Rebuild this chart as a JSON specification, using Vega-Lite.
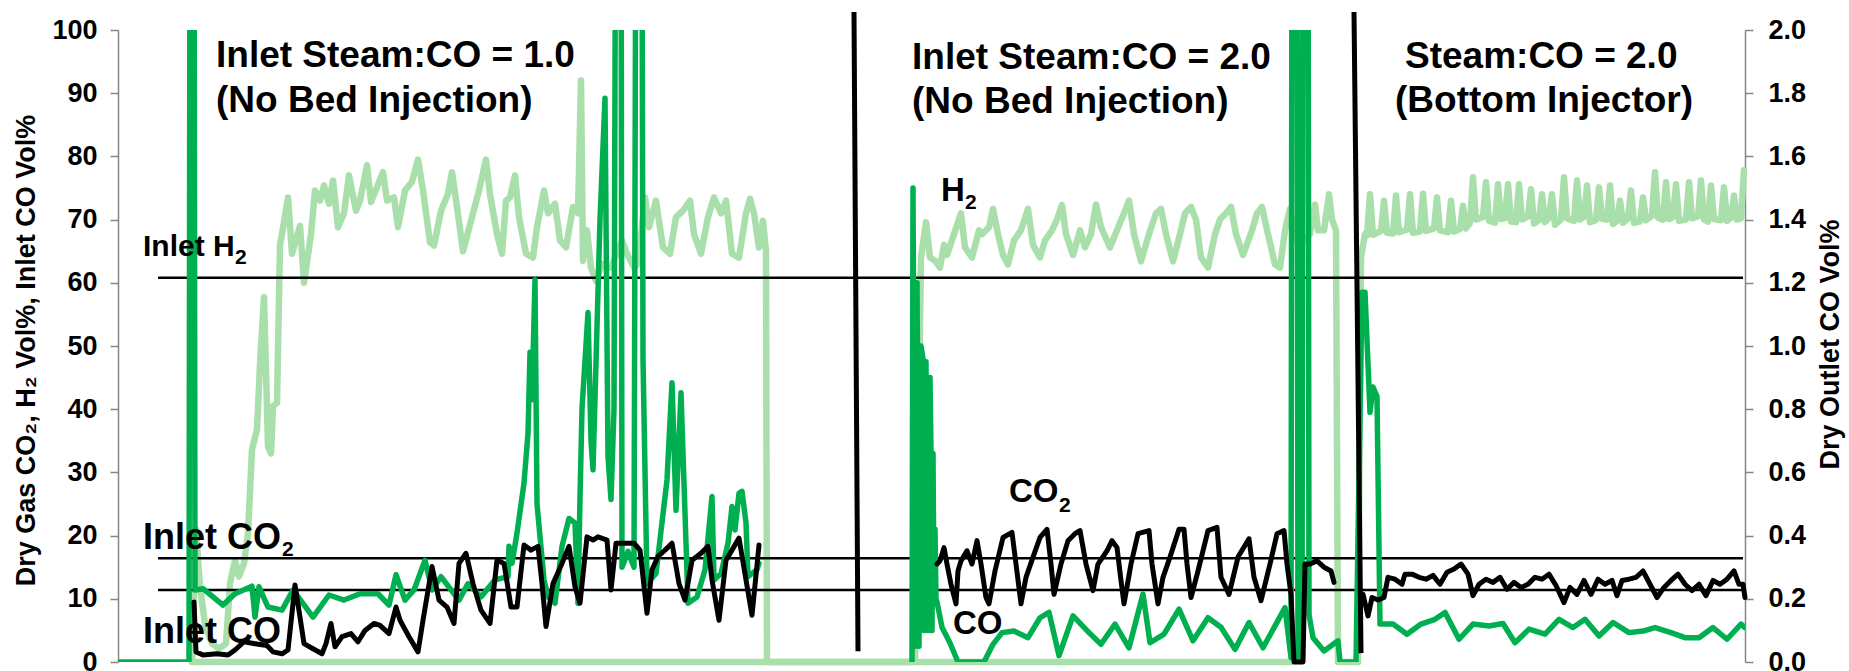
{
  "$schema": "https://vega.github.io/schema/vega-lite/v6.json",
  "width": 1627,
  "height": 632,
  "autosize": {"type": "none"},
  "padding": {"left": 118, "top": 30, "right": 104, "bottom": 9},
  "background": "white",
  "config": {
    "view": {"stroke": null},
    "axis": {
      "domainColor": "#868686", "domainWidth": 1.5,
      "tickColor": "#868686", "tickWidth": 1.5, "tickSize": 8,
      "labelFont": "Liberation Sans", "labelFontWeight": "bold", "labelFontSize": 27, "labelColor": "#000000",
      "titleFont": "Liberation Sans", "titleFontWeight": "bold", "titleFontSize": 27, "titleColor": "#000000",
      "grid": false
    }
  },
  "datasets": {
    "h2": [
      {"t":74,"v":0,"s":"a"},{"t":78,"v":21,"s":"a"},{"t":82,"v":12,"s":"a"},{"t":87,"v":6,"s":"a"},{"t":94,"v":2.9,"s":"a"},{"t":101,"v":2.1,"s":"a"},{"t":108,"v":2.9,"s":"a"},{"t":112,"v":12.4,"s":"a"},{"t":117,"v":16.1,"s":"a"},{"t":121,"v":13.5,"s":"a"},{"t":126,"v":15.6,"s":"a"},{"t":130,"v":20.4,"s":"a"},{"t":134,"v":33.6,"s":"a"},{"t":139,"v":36.8,"s":"a"},{"t":142,"v":47,"s":"a"},{"t":146,"v":57.7,"s":"a"},{"t":150,"v":34.1,"s":"a"},{"t":153,"v":33,"s":"a"},{"t":155,"v":40.5,"s":"a"},{"t":159,"v":41,"s":"a"},{"t":162,"v":66,"s":"a"},{"t":164,"v":67.7,"s":"a"},{"t":170,"v":73.5,"s":"a"},{"t":174,"v":64.6,"s":"a"},{"t":182,"v":69,"s":"a"},{"t":186,"v":60,"s":"a"},{"t":193,"v":67.7,"s":"a"},{"t":197,"v":74.6,"s":"a"},{"t":202,"v":73,"s":"a"},{"t":206,"v":75.4,"s":"a"},{"t":211,"v":72.5,"s":"a"},{"t":215,"v":76.2,"s":"a"},{"t":220,"v":68.8,"s":"a"},{"t":226,"v":71,"s":"a"},{"t":231,"v":77,"s":"a"},{"t":238,"v":71.4,"s":"a"},{"t":242,"v":73,"s":"a"},{"t":249,"v":78.6,"s":"a"},{"t":253,"v":72.8,"s":"a"},{"t":265,"v":77.5,"s":"a"},{"t":269,"v":73,"s":"a"},{"t":276,"v":73.5,"s":"a"},{"t":280,"v":68.8,"s":"a"},{"t":287,"v":74.6,"s":"a"},{"t":294,"v":76,"s":"a"},{"t":300,"v":79.5,"s":"a"},{"t":305,"v":74.6,"s":"a"},{"t":312,"v":66.4,"s":"a"},{"t":316,"v":65.9,"s":"a"},{"t":323,"v":71.4,"s":"a"},{"t":330,"v":74.1,"s":"a"},{"t":334,"v":77.5,"s":"a"},{"t":339,"v":72,"s":"a"},{"t":345,"v":65,"s":"a"},{"t":354,"v":70.4,"s":"a"},{"t":361,"v":74.6,"s":"a"},{"t":368,"v":79.5,"s":"a"},{"t":372,"v":74,"s":"a"},{"t":379,"v":67.7,"s":"a"},{"t":384,"v":64.6,"s":"a"},{"t":388,"v":73,"s":"a"},{"t":392,"v":73.5,"s":"a"},{"t":397,"v":77,"s":"a"},{"t":401,"v":70.4,"s":"a"},{"t":408,"v":64.6,"s":"a"},{"t":415,"v":64,"s":"a"},{"t":419,"v":68.8,"s":"a"},{"t":426,"v":74.6,"s":"a"},{"t":430,"v":71,"s":"a"},{"t":437,"v":72.5,"s":"a"},{"t":442,"v":66.7,"s":"a"},{"t":448,"v":65.6,"s":"a"},{"t":455,"v":72,"s":"a"},{"t":460,"v":71,"s":"a"},{"t":463,"v":92,"s":"a"},{"t":465,"v":63.5,"s":"a"},{"t":469,"v":68.3,"s":"a"},{"t":473,"v":62.4,"s":"a"},{"t":478,"v":60.3,"s":"a"},{"t":484,"v":63,"s":"a"},{"t":493,"v":62.4,"s":"a"},{"t":504,"v":66.7,"s":"a"},{"t":509,"v":64.6,"s":"a"},{"t":516,"v":62.4,"s":"a"},{"t":520,"v":63,"s":"a"},{"t":527,"v":73.5,"s":"a"},{"t":531,"v":68.8,"s":"a"},{"t":538,"v":73,"s":"a"},{"t":545,"v":65.6,"s":"a"},{"t":552,"v":64.6,"s":"a"},{"t":558,"v":70.4,"s":"a"},{"t":565,"v":71.4,"s":"a"},{"t":572,"v":73,"s":"a"},{"t":576,"v":67.7,"s":"a"},{"t":583,"v":64.6,"s":"a"},{"t":590,"v":70.4,"s":"a"},{"t":596,"v":73.5,"s":"a"},{"t":603,"v":71,"s":"a"},{"t":608,"v":73,"s":"a"},{"t":614,"v":64.6,"s":"a"},{"t":621,"v":64,"s":"a"},{"t":628,"v":71,"s":"a"},{"t":632,"v":73.3,"s":"a"},{"t":636,"v":71,"s":"a"},{"t":641,"v":65.6,"s":"a"},{"t":645,"v":69.8,"s":"a"},{"t":648,"v":65,"s":"a"},{"t":649,"v":0,"s":"a"},
      {"t":797,"v":0,"s":"a"},{"t":803,"v":64,"s":"a"},{"t":808,"v":69.6,"s":"a"},{"t":812,"v":64,"s":"a"},{"t":817,"v":63.5,"s":"a"},{"t":822,"v":62.4,"s":"a"},{"t":826,"v":66,"s":"a"},{"t":829,"v":64.4,"s":"a"},{"t":836,"v":67.7,"s":"a"},{"t":843,"v":71,"s":"a"},{"t":847,"v":65.6,"s":"a"},{"t":854,"v":64,"s":"a"},{"t":861,"v":68.3,"s":"a"},{"t":864,"v":67.7,"s":"a"},{"t":871,"v":68.8,"s":"a"},{"t":875,"v":71.7,"s":"a"},{"t":880,"v":67.7,"s":"a"},{"t":885,"v":64.4,"s":"a"},{"t":890,"v":62.9,"s":"a"},{"t":896,"v":66.7,"s":"a"},{"t":903,"v":68.3,"s":"a"},{"t":910,"v":71.7,"s":"a"},{"t":915,"v":66,"s":"a"},{"t":922,"v":64,"s":"a"},{"t":927,"v":66.7,"s":"a"},{"t":934,"v":68.3,"s":"a"},{"t":939,"v":70,"s":"a"},{"t":944,"v":72.3,"s":"a"},{"t":948,"v":67.7,"s":"a"},{"t":955,"v":64.4,"s":"a"},{"t":962,"v":68.3,"s":"a"},{"t":967,"v":65.6,"s":"a"},{"t":973,"v":67.7,"s":"a"},{"t":978,"v":72.4,"s":"a"},{"t":983,"v":68.8,"s":"a"},{"t":992,"v":65.6,"s":"a"},{"t":999,"v":68.3,"s":"a"},{"t":1006,"v":71,"s":"a"},{"t":1011,"v":73,"s":"a"},{"t":1016,"v":67.7,"s":"a"},{"t":1023,"v":63.4,"s":"a"},{"t":1031,"v":67.7,"s":"a"},{"t":1038,"v":71,"s":"a"},{"t":1043,"v":71.7,"s":"a"},{"t":1048,"v":67.7,"s":"a"},{"t":1055,"v":63.4,"s":"a"},{"t":1062,"v":67.7,"s":"a"},{"t":1067,"v":71,"s":"a"},{"t":1073,"v":72,"s":"a"},{"t":1078,"v":70,"s":"a"},{"t":1083,"v":64,"s":"a"},{"t":1090,"v":62.4,"s":"a"},{"t":1097,"v":67.7,"s":"a"},{"t":1102,"v":70,"s":"a"},{"t":1108,"v":71,"s":"a"},{"t":1113,"v":72,"s":"a"},{"t":1118,"v":67.7,"s":"a"},{"t":1125,"v":64.4,"s":"a"},{"t":1134,"v":68.3,"s":"a"},{"t":1139,"v":71,"s":"a"},{"t":1144,"v":72,"s":"a"},{"t":1150,"v":67.7,"s":"a"},{"t":1157,"v":62.9,"s":"a"},{"t":1162,"v":62.4,"s":"a"},{"t":1167,"v":68.3,"s":"a"},{"t":1172,"v":71.7,"s":"a"},{"t":1178,"v":66.7,"s":"a"},{"t":1186,"v":66.7,"s":"a"},{"t":1192,"v":67.7,"s":"a"},{"t":1197,"v":72.4,"s":"a"},{"t":1200,"v":68.3,"s":"a"},{"t":1206,"v":68.3,"s":"a"},{"t":1211,"v":74,"s":"a"},{"t":1214,"v":70,"s":"a"},{"t":1218,"v":68.3,"s":"a"},{"t":1220,"v":0,"s":"a"},
      {"t":1240,"v":0,"s":"a"},{"t":1243,"v":64,"s":"a"},{"t":1247,"v":67.7,"s":"a"},{"t":1249,"v":67.5,"s":"a"},{"t":1252,"v":74.0,"s":"a"},{"t":1255,"v":67.6,"s":"a"},{"t":1263,"v":68.2,"s":"a"},{"t":1266,"v":73.0,"s":"a"},{"t":1269,"v":67.9,"s":"a"},{"t":1275,"v":67.8,"s":"a"},{"t":1278,"v":73.8,"s":"a"},{"t":1281,"v":68.0,"s":"a"},{"t":1289,"v":68.4,"s":"a"},{"t":1292,"v":74.0,"s":"a"},{"t":1295,"v":67.9,"s":"a"},{"t":1302,"v":68.1,"s":"a"},{"t":1305,"v":74.1,"s":"a"},{"t":1308,"v":68.2,"s":"a"},{"t":1316,"v":68.6,"s":"a"},{"t":1319,"v":73.5,"s":"a"},{"t":1322,"v":68.3,"s":"a"},{"t":1330,"v":68.0,"s":"a"},{"t":1333,"v":73.0,"s":"a"},{"t":1336,"v":68.1,"s":"a"},{"t":1342,"v":68.5,"s":"a"},{"t":1345,"v":72.2,"s":"a"},{"t":1348,"v":68.6,"s":"a"},{"t":1352,"v":69.5,"s":"a"},{"t":1355,"v":76.7,"s":"a"},{"t":1358,"v":70.0,"s":"a"},{"t":1365,"v":70.4,"s":"a"},{"t":1368,"v":75.9,"s":"a"},{"t":1371,"v":69.8,"s":"a"},{"t":1377,"v":69.5,"s":"a"},{"t":1380,"v":75.6,"s":"a"},{"t":1383,"v":70.1,"s":"a"},{"t":1387,"v":70.2,"s":"a"},{"t":1390,"v":75.6,"s":"a"},{"t":1393,"v":69.7,"s":"a"},{"t":1398,"v":69.6,"s":"a"},{"t":1401,"v":75.6,"s":"a"},{"t":1404,"v":70.0,"s":"a"},{"t":1410,"v":70.5,"s":"a"},{"t":1413,"v":74.8,"s":"a"},{"t":1416,"v":69.4,"s":"a"},{"t":1421,"v":69.9,"s":"a"},{"t":1424,"v":74.0,"s":"a"},{"t":1427,"v":69.6,"s":"a"},{"t":1431,"v":70.3,"s":"a"},{"t":1434,"v":74.0,"s":"a"},{"t":1437,"v":69.2,"s":"a"},{"t":1443,"v":70.0,"s":"a"},{"t":1446,"v":76.7,"s":"a"},{"t":1449,"v":70.2,"s":"a"},{"t":1456,"v":69.8,"s":"a"},{"t":1459,"v":76.2,"s":"a"},{"t":1462,"v":70.0,"s":"a"},{"t":1466,"v":70.4,"s":"a"},{"t":1469,"v":75.4,"s":"a"},{"t":1472,"v":69.6,"s":"a"},{"t":1478,"v":69.9,"s":"a"},{"t":1481,"v":75.1,"s":"a"},{"t":1484,"v":70.1,"s":"a"},{"t":1489,"v":70.0,"s":"a"},{"t":1492,"v":75.4,"s":"a"},{"t":1495,"v":69.3,"s":"a"},{"t":1499,"v":69.8,"s":"a"},{"t":1502,"v":73.0,"s":"a"},{"t":1505,"v":69.5,"s":"a"},{"t":1510,"v":70.2,"s":"a"},{"t":1513,"v":74.6,"s":"a"},{"t":1516,"v":69.5,"s":"a"},{"t":1522,"v":69.7,"s":"a"},{"t":1525,"v":73.5,"s":"a"},{"t":1528,"v":69.9,"s":"a"},{"t":1534,"v":70.6,"s":"a"},{"t":1537,"v":77.5,"s":"a"},{"t":1540,"v":70.3,"s":"a"},{"t":1545,"v":70.0,"s":"a"},{"t":1548,"v":75.9,"s":"a"},{"t":1551,"v":70.1,"s":"a"},{"t":1555,"v":70.4,"s":"a"},{"t":1558,"v":75.6,"s":"a"},{"t":1561,"v":69.8,"s":"a"},{"t":1568,"v":70.0,"s":"a"},{"t":1571,"v":75.9,"s":"a"},{"t":1574,"v":70.2,"s":"a"},{"t":1580,"v":70.5,"s":"a"},{"t":1583,"v":76.2,"s":"a"},{"t":1586,"v":70.0,"s":"a"},{"t":1590,"v":69.7,"s":"a"},{"t":1593,"v":75.4,"s":"a"},{"t":1596,"v":70.1,"s":"a"},{"t":1603,"v":69.9,"s":"a"},{"t":1606,"v":75.1,"s":"a"},{"t":1609,"v":69.8,"s":"a"},{"t":1613,"v":70.3,"s":"a"},{"t":1616,"v":73.8,"s":"a"},{"t":1619,"v":70.0,"s":"a"},{"t":1623,"v":70.2,"s":"a"},{"t":1626,"v":77.8,"s":"a"},
      {"t":74,"v":0,"s":"b"},{"t":1174,"v":0,"s":"b"}
    ],
    "co": [
      {"t":0,"v":0,"s":"a"},{"t":71,"v":0,"s":"a"},{"t":73,"v":5,"s":"a"},{"t":75,"v":5,"s":"a"},{"t":77,"v":0.228,"s":"a"},{"t":85,"v":0.232,"s":"a"},{"t":105,"v":0.18,"s":"a"},{"t":117,"v":0.216,"s":"a"},{"t":134,"v":0.24,"s":"a"},{"t":137,"v":0.142,"s":"a"},{"t":141,"v":0.238,"s":"a"},{"t":150,"v":0.174,"s":"a"},{"t":164,"v":0.164,"s":"a"},{"t":175,"v":0.228,"s":"a"},{"t":195,"v":0.142,"s":"a"},{"t":211,"v":0.212,"s":"a"},{"t":226,"v":0.196,"s":"a"},{"t":242,"v":0.216,"s":"a"},{"t":260,"v":0.216,"s":"a"},{"t":271,"v":0.18,"s":"a"},{"t":278,"v":0.276,"s":"a"},{"t":287,"v":0.196,"s":"a"},{"t":296,"v":0.228,"s":"a"},{"t":307,"v":0.322,"s":"a"},{"t":314,"v":0.228,"s":"a"},{"t":323,"v":0.27,"s":"a"},{"t":336,"v":0.216,"s":"a"},{"t":341,"v":0.196,"s":"a"},{"t":350,"v":0.248,"s":"a"},{"t":363,"v":0.206,"s":"a"},{"t":377,"v":0.26,"s":"a"},{"t":390,"v":0.27,"s":"a"},{"t":391,"v":0.366,"s":"a"},{"t":394,"v":0.312,"s":"a"},{"t":399,"v":0.408,"s":"a"},{"t":406,"v":0.566,"s":"a"},{"t":410,"v":0.724,"s":"a"},{"t":412,"v":0.98,"s":"a"},{"t":414,"v":0.83,"s":"a"},{"t":417,"v":1.21,"s":"a"},{"t":419,"v":0.5,"s":"a"},{"t":426,"v":0.26,"s":"a"},{"t":430,"v":0.206,"s":"a"},{"t":437,"v":0.186,"s":"a"},{"t":444,"v":0.366,"s":"a"},{"t":451,"v":0.454,"s":"a"},{"t":457,"v":0.44,"s":"a"},{"t":460,"v":0.186,"s":"a"},{"t":462,"v":0.52,"s":"a"},{"t":464,"v":0.8,"s":"a"},{"t":470,"v":1.106,"s":"a"},{"t":473,"v":0.7,"s":"a"},{"t":475,"v":0.608,"s":"a"},{"t":482,"v":1.4,"s":"a"},{"t":487,"v":1.784,"s":"a"},{"t":490,"v":0.65,"s":"a"},{"t":493,"v":0.514,"s":"a"},{"t":496,"v":0.8,"s":"a"},{"t":500,"v":5,"s":"a"},{"t":502,"v":5,"s":"a"},{"t":504,"v":0.3,"s":"a"},{"t":510,"v":0.35,"s":"a"},{"t":516,"v":0.3,"s":"a"},{"t":520,"v":5,"s":"a"},{"t":522,"v":5,"s":"a"},{"t":525,"v":0.96,"s":"a"},{"t":529,"v":0.248,"s":"a"},{"t":538,"v":0.28,"s":"a"},{"t":549,"v":0.576,"s":"a"},{"t":554,"v":0.884,"s":"a"},{"t":558,"v":0.48,"s":"a"},{"t":563,"v":0.852,"s":"a"},{"t":570,"v":0.186,"s":"a"},{"t":579,"v":0.206,"s":"a"},{"t":587,"v":0.292,"s":"a"},{"t":594,"v":0.524,"s":"a"},{"t":596,"v":0.26,"s":"a"},{"t":603,"v":0.28,"s":"a"},{"t":610,"v":0.376,"s":"a"},{"t":614,"v":0.492,"s":"a"},{"t":617,"v":0.418,"s":"a"},{"t":621,"v":0.534,"s":"a"},{"t":624,"v":0.54,"s":"a"},{"t":628,"v":0.44,"s":"a"},{"t":630,"v":0.27,"s":"a"},{"t":639,"v":0.292,"s":"a"},{"t":641,"v":0.312,"s":"a"},
      {"t":794,"v":0,"s":"b"},{"t":795,"v":1.5,"s":"b"},{"t":797,"v":0.05,"s":"b"},{"t":799,"v":1.2,"s":"b"},{"t":801,"v":0.05,"s":"b"},{"t":803,"v":1.0,"s":"b"},{"t":805,"v":0.96,"s":"b"},{"t":806,"v":0.1,"s":"b"},{"t":808,"v":0.95,"s":"b"},{"t":810,"v":0.1,"s":"b"},{"t":812,"v":0.9,"s":"b"},{"t":813,"v":0.66,"s":"b"},{"t":814,"v":0.1,"s":"b"},{"t":815,"v":0.66,"s":"b"},{"t":816,"v":0.2,"s":"b"},{"t":817,"v":0.42,"s":"b"},{"t":818,"v":0.2,"s":"b"},{"t":819,"v":0.19,"s":"b"},{"t":824,"v":0.11,"s":"b"},{"t":832,"v":0.06,"s":"b"},{"t":840,"v":0,"s":"b"},{"t":866,"v":0,"s":"b"},{"t":875,"v":0.056,"s":"b"},{"t":884,"v":0.093,"s":"b"},{"t":896,"v":0.098,"s":"b"},{"t":910,"v":0.077,"s":"b"},{"t":922,"v":0.14,"s":"b"},{"t":931,"v":0.157,"s":"b"},{"t":941,"v":0.02,"s":"b"},{"t":955,"v":0.146,"s":"b"},{"t":971,"v":0.093,"s":"b"},{"t":983,"v":0.056,"s":"b"},{"t":997,"v":0.12,"s":"b"},{"t":1011,"v":0.045,"s":"b"},{"t":1025,"v":0.215,"s":"b"},{"t":1032,"v":0.061,"s":"b"},{"t":1046,"v":0.088,"s":"b"},{"t":1061,"v":0.167,"s":"b"},{"t":1075,"v":0.067,"s":"b"},{"t":1090,"v":0.14,"s":"b"},{"t":1103,"v":0.11,"s":"b"},{"t":1117,"v":0.04,"s":"b"},{"t":1131,"v":0.125,"s":"b"},{"t":1145,"v":0.045,"s":"b"},{"t":1167,"v":0.172,"s":"b"},{"t":1173,"v":0.014,"s":"b"},{"t":1175,"v":5,"s":"b"},{"t":1178,"v":5,"s":"b"},{"t":1180,"v":0,"s":"b"},{"t":1184,"v":0,"s":"b"},{"t":1186,"v":5,"s":"b"},{"t":1189,"v":5,"s":"b"},{"t":1191,"v":0.15,"s":"b"},{"t":1195,"v":0.077,"s":"b"},{"t":1206,"v":0.035,"s":"b"},{"t":1220,"v":0.067,"s":"b"},{"t":1222,"v":0,"s":"b"},{"t":1238,"v":0,"s":"b"},{"t":1244,"v":1.17,"s":"b"},{"t":1247,"v":1.17,"s":"b"},{"t":1252,"v":0.79,"s":"b"},{"t":1255,"v":0.87,"s":"b"},{"t":1259,"v":0.84,"s":"b"},{"t":1262,"v":0.12,"s":"b"},{"t":1275,"v":0.12,"s":"b"},{"t":1289,"v":0.088,"s":"b"},{"t":1303,"v":0.12,"s":"b"},{"t":1317,"v":0.135,"s":"b"},{"t":1327,"v":0.157,"s":"b"},{"t":1341,"v":0.072,"s":"b"},{"t":1355,"v":0.12,"s":"b"},{"t":1371,"v":0.114,"s":"b"},{"t":1385,"v":0.122,"s":"b"},{"t":1397,"v":0.061,"s":"b"},{"t":1411,"v":0.104,"s":"b"},{"t":1427,"v":0.088,"s":"b"},{"t":1441,"v":0.135,"s":"b"},{"t":1455,"v":0.109,"s":"b"},{"t":1467,"v":0.135,"s":"b"},{"t":1481,"v":0.082,"s":"b"},{"t":1495,"v":0.125,"s":"b"},{"t":1511,"v":0.093,"s":"b"},{"t":1525,"v":0.098,"s":"b"},{"t":1537,"v":0.109,"s":"b"},{"t":1553,"v":0.093,"s":"b"},{"t":1567,"v":0.077,"s":"b"},{"t":1581,"v":0.077,"s":"b"},{"t":1595,"v":0.109,"s":"b"},{"t":1609,"v":0.072,"s":"b"},{"t":1623,"v":0.12,"s":"b"},{"t":1627,"v":0.109,"s":"b"}
    ],
    "co2": [
      {"t":76,"v":9.5,"s":"a"},{"t":78,"v":1.6,"s":"a"},{"t":85,"v":1.1,"s":"a"},{"t":99,"v":1.3,"s":"a"},{"t":110,"v":1.1,"s":"a"},{"t":117,"v":1.9,"s":"a"},{"t":126,"v":3.2,"s":"a"},{"t":137,"v":2.9,"s":"a"},{"t":149,"v":2.6,"s":"a"},{"t":155,"v":1.6,"s":"a"},{"t":164,"v":1.3,"s":"a"},{"t":170,"v":1.9,"s":"a"},{"t":177,"v":12.2,"s":"a"},{"t":182,"v":7.1,"s":"a"},{"t":186,"v":2.9,"s":"a"},{"t":195,"v":2.1,"s":"a"},{"t":204,"v":1.3,"s":"a"},{"t":208,"v":2.9,"s":"a"},{"t":213,"v":6.1,"s":"a"},{"t":217,"v":2.4,"s":"a"},{"t":224,"v":4,"s":"a"},{"t":233,"v":4.5,"s":"a"},{"t":240,"v":3.2,"s":"a"},{"t":247,"v":5,"s":"a"},{"t":256,"v":6.1,"s":"a"},{"t":262,"v":5.8,"s":"a"},{"t":271,"v":4.5,"s":"a"},{"t":278,"v":8.7,"s":"a"},{"t":282,"v":6.6,"s":"a"},{"t":291,"v":4,"s":"a"},{"t":300,"v":1.6,"s":"a"},{"t":305,"v":6.6,"s":"a"},{"t":314,"v":15.1,"s":"a"},{"t":321,"v":9.8,"s":"a"},{"t":329,"v":8.7,"s":"a"},{"t":336,"v":6.1,"s":"a"},{"t":341,"v":15.6,"s":"a"},{"t":348,"v":17.2,"s":"a"},{"t":355,"v":12.4,"s":"a"},{"t":363,"v":8.2,"s":"a"},{"t":372,"v":6.1,"s":"a"},{"t":379,"v":16.1,"s":"a"},{"t":386,"v":15.6,"s":"a"},{"t":393,"v":8.7,"s":"a"},{"t":399,"v":8.7,"s":"a"},{"t":406,"v":18.5,"s":"a"},{"t":413,"v":17.7,"s":"a"},{"t":420,"v":18.3,"s":"a"},{"t":424,"v":12.4,"s":"a"},{"t":428,"v":5.6,"s":"a"},{"t":435,"v":12.4,"s":"a"},{"t":444,"v":15.6,"s":"a"},{"t":451,"v":18.3,"s":"a"},{"t":457,"v":11.9,"s":"a"},{"t":462,"v":9.3,"s":"a"},{"t":469,"v":19.8,"s":"a"},{"t":475,"v":19.3,"s":"a"},{"t":480,"v":19.8,"s":"a"},{"t":489,"v":19.3,"s":"a"},{"t":493,"v":11.4,"s":"a"},{"t":498,"v":18.8,"s":"a"},{"t":507,"v":18.8,"s":"a"},{"t":516,"v":18.8,"s":"a"},{"t":522,"v":17.7,"s":"a"},{"t":529,"v":7.7,"s":"a"},{"t":534,"v":14.6,"s":"a"},{"t":540,"v":16.7,"s":"a"},{"t":547,"v":17.7,"s":"a"},{"t":554,"v":18.8,"s":"a"},{"t":561,"v":12.4,"s":"a"},{"t":567,"v":9.8,"s":"a"},{"t":574,"v":16.1,"s":"a"},{"t":583,"v":17.2,"s":"a"},{"t":590,"v":18.3,"s":"a"},{"t":594,"v":13,"s":"a"},{"t":601,"v":6.6,"s":"a"},{"t":608,"v":16.1,"s":"a"},{"t":614,"v":17.7,"s":"a"},{"t":621,"v":19.6,"s":"a"},{"t":628,"v":13,"s":"a"},{"t":634,"v":7.4,"s":"a"},{"t":641,"v":18.5,"s":"a"},
      {"t":819,"v":15.5,"s":"b"},{"t":822,"v":16,"s":"b"},{"t":826,"v":18.1,"s":"b"},{"t":829,"v":15.5,"s":"b"},{"t":833,"v":12.3,"s":"b"},{"t":838,"v":9.2,"s":"b"},{"t":840,"v":14.4,"s":"b"},{"t":843,"v":16,"s":"b"},{"t":849,"v":17.6,"s":"b"},{"t":854,"v":15.5,"s":"b"},{"t":859,"v":19.2,"s":"b"},{"t":863,"v":15.5,"s":"b"},{"t":868,"v":10.2,"s":"b"},{"t":871,"v":9.2,"s":"b"},{"t":877,"v":14.4,"s":"b"},{"t":885,"v":19.7,"s":"b"},{"t":894,"v":20.5,"s":"b"},{"t":898,"v":15.5,"s":"b"},{"t":903,"v":9.2,"s":"b"},{"t":908,"v":13.4,"s":"b"},{"t":915,"v":16.6,"s":"b"},{"t":922,"v":19.7,"s":"b"},{"t":929,"v":21,"s":"b"},{"t":933,"v":15.5,"s":"b"},{"t":936,"v":10.7,"s":"b"},{"t":943,"v":15.5,"s":"b"},{"t":950,"v":19.2,"s":"b"},{"t":957,"v":20.3,"s":"b"},{"t":962,"v":20.8,"s":"b"},{"t":968,"v":15.5,"s":"b"},{"t":975,"v":11.3,"s":"b"},{"t":980,"v":15.5,"s":"b"},{"t":989,"v":17.6,"s":"b"},{"t":994,"v":19.2,"s":"b"},{"t":999,"v":18.1,"s":"b"},{"t":1003,"v":12.9,"s":"b"},{"t":1006,"v":9.2,"s":"b"},{"t":1013,"v":15.5,"s":"b"},{"t":1020,"v":20.3,"s":"b"},{"t":1031,"v":20.8,"s":"b"},{"t":1034,"v":15.5,"s":"b"},{"t":1040,"v":9.2,"s":"b"},{"t":1045,"v":13.4,"s":"b"},{"t":1052,"v":16.6,"s":"b"},{"t":1061,"v":21,"s":"b"},{"t":1066,"v":21,"s":"b"},{"t":1069,"v":15.5,"s":"b"},{"t":1073,"v":10.2,"s":"b"},{"t":1080,"v":14.4,"s":"b"},{"t":1090,"v":20.8,"s":"b"},{"t":1099,"v":21.3,"s":"b"},{"t":1103,"v":13.4,"s":"b"},{"t":1111,"v":10.7,"s":"b"},{"t":1120,"v":16.6,"s":"b"},{"t":1131,"v":19.5,"s":"b"},{"t":1136,"v":13.4,"s":"b"},{"t":1143,"v":9.7,"s":"b"},{"t":1152,"v":15.5,"s":"b"},{"t":1159,"v":20.3,"s":"b"},{"t":1166,"v":20.8,"s":"b"},{"t":1169,"v":15.5,"s":"b"},{"t":1173,"v":10.7,"s":"b"},{"t":1176,"v":0,"s":"b"},{"t":1185,"v":0,"s":"b"},{"t":1187,"v":15.5,"s":"b"},{"t":1192,"v":15.5,"s":"b"},{"t":1199,"v":16,"s":"b"},{"t":1206,"v":15,"s":"b"},{"t":1213,"v":14.4,"s":"b"},{"t":1216,"v":12.6,"s":"b"},
      {"t":1245,"v":10.7,"s":"c"},{"t":1250,"v":7.3,"s":"c"},{"t":1254,"v":10.2,"s":"c"},{"t":1260,"v":9.8,"s":"c"},{"t":1266,"v":10.2,"s":"c"},{"t":1270,"v":13.4,"s":"c"},{"t":1277,"v":13.1,"s":"c"},{"t":1284,"v":12.3,"s":"c"},{"t":1287,"v":13.9,"s":"c"},{"t":1294,"v":13.9,"s":"c"},{"t":1301,"v":13.4,"s":"c"},{"t":1308,"v":13.1,"s":"c"},{"t":1315,"v":13.7,"s":"c"},{"t":1322,"v":12.3,"s":"c"},{"t":1329,"v":14.2,"s":"c"},{"t":1336,"v":14.7,"s":"c"},{"t":1343,"v":15.5,"s":"c"},{"t":1350,"v":13.9,"s":"c"},{"t":1355,"v":10.5,"s":"c"},{"t":1361,"v":12.3,"s":"c"},{"t":1368,"v":13.1,"s":"c"},{"t":1375,"v":12.6,"s":"c"},{"t":1382,"v":13.4,"s":"c"},{"t":1389,"v":11.5,"s":"c"},{"t":1396,"v":12.6,"s":"c"},{"t":1403,"v":11.8,"s":"c"},{"t":1410,"v":12.3,"s":"c"},{"t":1417,"v":13.4,"s":"c"},{"t":1424,"v":13.1,"s":"c"},{"t":1431,"v":13.9,"s":"c"},{"t":1438,"v":12.1,"s":"c"},{"t":1446,"v":9.4,"s":"c"},{"t":1452,"v":11.8,"s":"c"},{"t":1459,"v":10.7,"s":"c"},{"t":1466,"v":12.9,"s":"c"},{"t":1473,"v":10.7,"s":"c"},{"t":1480,"v":13.1,"s":"c"},{"t":1487,"v":12.3,"s":"c"},{"t":1494,"v":12.9,"s":"c"},{"t":1499,"v":10.5,"s":"c"},{"t":1504,"v":12.9,"s":"c"},{"t":1511,"v":13.1,"s":"c"},{"t":1518,"v":13.4,"s":"c"},{"t":1525,"v":14.4,"s":"c"},{"t":1532,"v":12.3,"s":"c"},{"t":1539,"v":10.2,"s":"c"},{"t":1546,"v":11.8,"s":"c"},{"t":1553,"v":12.9,"s":"c"},{"t":1560,"v":13.9,"s":"c"},{"t":1567,"v":12.3,"s":"c"},{"t":1574,"v":11.3,"s":"c"},{"t":1581,"v":12.3,"s":"c"},{"t":1588,"v":10.5,"s":"c"},{"t":1595,"v":12.9,"s":"c"},{"t":1602,"v":12.3,"s":"c"},{"t":1609,"v":13.1,"s":"c"},{"t":1616,"v":14.4,"s":"c"},{"t":1621,"v":12.3,"s":"c"},{"t":1625,"v":12.3,"s":"c"},{"t":1627,"v":10.2,"s":"c"}
    ],
    "inlet": [
      {"name":"Inlet H2","t1":40,"t2":1625,"v":60.8},
      {"name":"Inlet CO2","t1":40,"t2":1625,"v":16.4},
      {"name":"Inlet CO","t1":40,"t2":1625,"v":11.4}
    ],
    "separators": [
      {"t1":736,"v1":102.85,"t2":740,"v2":1.7},
      {"t1":1236,"v1":102.85,"t2":1243,"v2":1.4}
    ],
    "notes": [
      {"label":"Inlet Steam:CO = 1.0","t":98,"v":94.1,"kind":"title"},
      {"label":"(No Bed Injection)","t":98,"v":87.0,"kind":"title"},
      {"label":"Inlet Steam:CO = 2.0","t":794,"v":93.9,"kind":"title"},
      {"label":"(No Bed Injection)","t":794,"v":86.9,"kind":"title"},
      {"label":"Steam:CO = 2.0","t":1287,"v":94.0,"kind":"title"},
      {"label":"(Bottom Injector)","t":1277,"v":87.0,"kind":"title"},
      {"label":"Inlet CO","t":25,"v":17.9,"kind":"big"},
      {"label":"Inlet CO","t":25,"v":3.05,"kind":"big"},
      {"label":"H","t":823,"v":73.0,"kind":"mid"},
      {"label":"CO","t":891,"v":25.3,"kind":"mid"},
      {"label":"CO","t":835,"v":4.4,"kind":"mid"},
      {"label":"Inlet H","t":25,"v":64.3,"kind":"small"},
      {"label":"2","t":117,"v":63.0,"kind":"sub"},
      {"label":"2","t":164,"v":16.8,"kind":"sub"},
      {"label":"2","t":847,"v":71.7,"kind":"sub"},
      {"label":"2","t":941,"v":23.7,"kind":"sub"}
    ]
  },
  "layer": [
    {
      "data": {"name": "h2"},
      "mark": {"type": "line", "color": "#A9DFAA", "strokeWidth": 6.5, "strokeJoin": "round", "strokeCap": "round"},
      "encoding": {
        "x": {"field": "t", "type": "quantitative", "scale": {"domain": [0, 1627], "nice": false, "zero": false}, "axis": null},
        "y": {"field": "v", "type": "quantitative", "scale": {"domain": [0, 100], "nice": false},
          "axis": {"orient": "left", "values": [0,10,20,30,40,50,60,70,80,90,100], "labelPadding": 13,
            "title": "Dry Gas CO₂, H₂ Vol%, Inlet CO Vol%", "titleX": -92, "titleY": 320, "titleAngle": 270,
            "titleAlign": "center", "titleBaseline": "middle"}},
        "detail": {"field": "s", "type": "nominal"}
      }
    },
    {
      "data": {"name": "inlet"},
      "mark": {"type": "rule", "color": "#000000", "strokeWidth": 2.5},
      "encoding": {
        "x": {"field": "t1", "type": "quantitative", "scale": {"domain": [0, 1627], "nice": false, "zero": false}, "axis": null},
        "x2": {"field": "t2"},
        "y": {"field": "v", "type": "quantitative", "scale": {"domain": [0, 100], "nice": false}, "axis": null}
      }
    },
    {
      "data": {"name": "co"},
      "mark": {"type": "line", "color": "#00B050", "strokeWidth": 5.5, "strokeJoin": "round", "strokeCap": "round", "clip": true},
      "encoding": {
        "x": {"field": "t", "type": "quantitative", "scale": {"domain": [0, 1627], "nice": false, "zero": false}, "axis": null},
        "y": {"field": "v", "type": "quantitative", "scale": {"domain": [0, 2], "nice": false},
          "axis": {"orient": "right", "values": [0,0.2,0.4,0.6,0.8,1,1.2,1.4,1.6,1.8,2], "format": ".1f", "labelPadding": 15,
            "title": "Dry Outlet CO Vol%", "titleX": 85, "titleY": 314, "titleAngle": 270,
            "titleAlign": "center", "titleBaseline": "middle"}},
        "detail": {"field": "s", "type": "nominal"}
      }
    },
    {
      "data": {"name": "co2"},
      "mark": {"type": "line", "color": "#000000", "strokeWidth": 5, "strokeJoin": "round", "strokeCap": "round"},
      "encoding": {
        "x": {"field": "t", "type": "quantitative", "scale": {"domain": [0, 1627], "nice": false, "zero": false}, "axis": null},
        "y": {"field": "v", "type": "quantitative", "scale": {"domain": [0, 100], "nice": false}, "axis": null},
        "detail": {"field": "s", "type": "nominal"}
      }
    },
    {
      "data": {"name": "separators"},
      "mark": {"type": "rule", "color": "#000000", "strokeWidth": 5},
      "encoding": {
        "x": {"field": "t1", "type": "quantitative", "scale": {"domain": [0, 1627], "nice": false, "zero": false}, "axis": null},
        "x2": {"field": "t2"},
        "y": {"field": "v1", "type": "quantitative", "scale": {"domain": [0, 100], "nice": false}, "axis": null},
        "y2": {"field": "v2"}
      }
    },
    {
      "data": {"name": "notes"},
      "transform": [{"filter": "datum.kind == 'title'"}],
      "mark": {"type": "text", "font": "Liberation Sans", "fontWeight": "bold", "fontSize": 37, "align": "left", "baseline": "alphabetic", "color": "#000000"},
      "encoding": {
        "x": {"field": "t", "type": "quantitative", "scale": {"domain": [0, 1627], "nice": false, "zero": false}, "axis": null},
        "y": {"field": "v", "type": "quantitative", "scale": {"domain": [0, 100], "nice": false}, "axis": null},
        "text": {"field": "label"}
      }
    },
    {
      "data": {"name": "notes"},
      "transform": [{"filter": "datum.kind == 'big'"}],
      "mark": {"type": "text", "font": "Liberation Sans", "fontWeight": "bold", "fontSize": 36, "align": "left", "baseline": "alphabetic", "color": "#000000"},
      "encoding": {
        "x": {"field": "t", "type": "quantitative", "scale": {"domain": [0, 1627], "nice": false, "zero": false}, "axis": null},
        "y": {"field": "v", "type": "quantitative", "scale": {"domain": [0, 100], "nice": false}, "axis": null},
        "text": {"field": "label"}
      }
    },
    {
      "data": {"name": "notes"},
      "transform": [{"filter": "datum.kind == 'mid'"}],
      "mark": {"type": "text", "font": "Liberation Sans", "fontWeight": "bold", "fontSize": 33, "align": "left", "baseline": "alphabetic", "color": "#000000"},
      "encoding": {
        "x": {"field": "t", "type": "quantitative", "scale": {"domain": [0, 1627], "nice": false, "zero": false}, "axis": null},
        "y": {"field": "v", "type": "quantitative", "scale": {"domain": [0, 100], "nice": false}, "axis": null},
        "text": {"field": "label"}
      }
    },
    {
      "data": {"name": "notes"},
      "transform": [{"filter": "datum.kind == 'small'"}],
      "mark": {"type": "text", "font": "Liberation Sans", "fontWeight": "bold", "fontSize": 30, "align": "left", "baseline": "alphabetic", "color": "#000000"},
      "encoding": {
        "x": {"field": "t", "type": "quantitative", "scale": {"domain": [0, 1627], "nice": false, "zero": false}, "axis": null},
        "y": {"field": "v", "type": "quantitative", "scale": {"domain": [0, 100], "nice": false}, "axis": null},
        "text": {"field": "label"}
      }
    },
    {
      "data": {"name": "notes"},
      "transform": [{"filter": "datum.kind == 'sub'"}],
      "mark": {"type": "text", "font": "Liberation Sans", "fontWeight": "bold", "fontSize": 21, "align": "left", "baseline": "alphabetic", "color": "#000000"},
      "encoding": {
        "x": {"field": "t", "type": "quantitative", "scale": {"domain": [0, 1627], "nice": false, "zero": false}, "axis": null},
        "y": {"field": "v", "type": "quantitative", "scale": {"domain": [0, 100], "nice": false}, "axis": null},
        "text": {"field": "label"}
      }
    }
  ],
  "resolve": {"scale": {"y": "independent"}, "axis": {"y": "independent"}}
}
